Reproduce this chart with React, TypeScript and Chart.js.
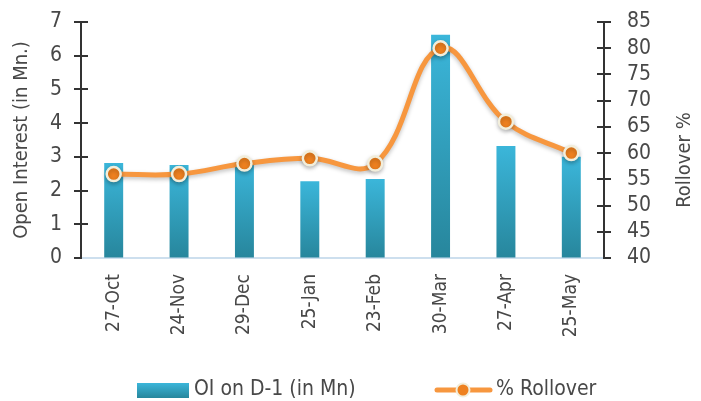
import { useEffect, useRef } from "react";
import { Chart, registerables } from "chart.js";

Chart.register(...registerables);

const categories = ["27-Oct", "24-Nov", "29-Dec", "25-Jan", "23-Feb", "30-Mar", "27-Apr", "25-May"];
const oiValues = [2.82, 2.76, 2.85, 2.28, 2.34, 6.62, 3.32, 3.0];
const rolloverValues = [56, 56, 58, 59, 58, 80, 66, 60];
const oiLabel = "OI on D-1 (in Mn)";
const rolloverLabel = "% Rollover";
const leftTitle = "Open Interest (in Mn.)";
const rightTitle = "Rollover %";

const FONT = '"DejaVu Sans Condensed", "Liberation Sans Narrow", "Roboto", sans-serif';
const TEXT = "#484848";
const BAR_TOP = "#3bb6da";
const BAR_BOTTOM = "#27869c";
const LINE = "#f7973f";
const MARKER = "#ee8120";
const MARKER_BORDER = "#f2eedb";

const axisTicksPlugin = {
  id: "axisTicks",
  afterDraw(chart: any) {
    const ctx = chart.ctx;
    ctx.save();
    ctx.strokeStyle = "#333";
    ctx.lineWidth = 2;
    ["y", "y1"].forEach((id) => {
      const s = chart.scales[id];
      const x = id === "y" ? s.right : s.left;
      s.ticks.forEach((_t: any, i: number) => {
        const py = Math.round(s.getPixelForTick(i));
        ctx.beginPath();
        if (i === 0) {
          if (id === "y") { ctx.moveTo(x - 7, py); ctx.lineTo(x, py); }
          else { ctx.moveTo(x, py); ctx.lineTo(x + 7, py); }
        } else {
          ctx.moveTo(x - 7, py);
          ctx.lineTo(x + 7, py);
        }
        ctx.stroke();
      });
    });
    // right axis title, reading bottom-to-top
    const s1 = chart.scales.y1;
    const ca = chart.chartArea;
    ctx.fillStyle = TEXT;
    ctx.font = `20px ${FONT}`;
    ctx.textAlign = "center";
    ctx.textBaseline = "middle";
    ctx.translate(s1.right - 16, (ca.top + ca.bottom) / 2 + 20);
    ctx.rotate(-Math.PI / 2);
    ctx.fillText(rightTitle, 0, 0);
    ctx.restore();
  },
};

const lineShadowPlugin = {
  id: "lineShadow",
  beforeDatasetDraw(chart: any, args: any) {
    if (args.index === 1) {
      const ctx = chart.ctx;
      ctx.save();
      ctx.shadowColor = "rgba(0,0,0,0.25)";
      ctx.shadowBlur = 4;
      ctx.shadowOffsetY = 2;
    }
  },
  afterDatasetDraw(chart: any, args: any) {
    if (args.index === 1) chart.ctx.restore();
  },
};

const customLegendPlugin = {
  id: "customLegend",
  afterDraw(chart: any) {
    const ctx = chart.ctx;
    const y = 390;
    ctx.save();
    const g = ctx.createLinearGradient(0, y - 7, 0, y + 8);
    g.addColorStop(0, BAR_TOP);
    g.addColorStop(1, BAR_BOTTOM);
    ctx.fillStyle = g;
    ctx.fillRect(137, y - 7, 52, 15);
    ctx.fillStyle = TEXT;
    ctx.font = `21px ${FONT}`;
    ctx.textBaseline = "middle";
    ctx.textAlign = "left";
    ctx.fillText(oiLabel, 194, y);
    ctx.strokeStyle = LINE;
    ctx.lineWidth = 5;
    ctx.lineCap = "round";
    ctx.beginPath();
    ctx.moveTo(437, y);
    ctx.lineTo(490, y);
    ctx.stroke();
    ctx.beginPath();
    ctx.arc(463, y, 6.5, 0, Math.PI * 2);
    ctx.fillStyle = MARKER;
    ctx.fill();
    ctx.lineWidth = 2;
    ctx.strokeStyle = MARKER_BORDER;
    ctx.stroke();
    ctx.fillStyle = TEXT;
    ctx.fillText(rolloverLabel, 496, y);
    ctx.restore();
  },
};

export default function App() {
  const ref = useRef<HTMLCanvasElement | null>(null);

  useEffect(() => {
    if (!ref.current) return;
    const chart = new Chart(ref.current, {
      type: "bar",
      data: {
        labels: categories,
        datasets: [
          {
            type: "bar",
            label: oiLabel,
            data: oiValues,
            yAxisID: "y",
            order: 1,
            barPercentage: 0.29,
            categoryPercentage: 1,
            backgroundColor: (c: any) => {
              const chart = c.chart;
              const ys = chart.scales?.y;
              if (!chart.chartArea || !ys || c.raw == null) return BAR_TOP;
              const top = ys.getPixelForValue(c.raw);
              const bottom = ys.getPixelForValue(0);
              const g = chart.ctx.createLinearGradient(0, top, 0, bottom);
              g.addColorStop(0, BAR_TOP);
              g.addColorStop(1, BAR_BOTTOM);
              return g;
            },
          } as any,
          {
            type: "line",
            label: rolloverLabel,
            data: rolloverValues,
            yAxisID: "y1",
            order: 0,
            borderColor: LINE,
            borderWidth: 5,
            tension: 0.4,
            pointRadius: 7,
            pointBackgroundColor: MARKER,
            pointBorderColor: MARKER_BORDER,
            pointBorderWidth: 2.5,
            fill: false,
          } as any,
        ],
      },
      options: {
        animation: false,
        responsive: false,
        maintainAspectRatio: false,
        layout: { padding: { top: 22, left: 0, right: 0, bottom: 0 } },
        plugins: {
          legend: { display: false },
          tooltip: { enabled: false },
        },
        scales: {
          x: {
            offset: true,
            grid: { display: false, drawTicks: false },
            border: { display: true, color: "#cddfee", width: 2 },
            ticks: {
              color: TEXT,
              font: { family: FONT, size: 19 },
              minRotation: 90,
              maxRotation: 90,
              padding: 16,
              autoSkip: false,
            },
            afterFit: (s: any) => { s.height = 143; },
          },
          y: {
            position: "left",
            min: 0,
            max: 7,
            grid: { display: true, drawOnChartArea: false, drawTicks: true, tickLength: 19, color: "rgba(0,0,0,0)" },
            border: { display: true, color: "#333", width: 2 },
            ticks: {
              stepSize: 1,
              autoSkip: false,
              color: TEXT,
              font: { family: FONT, size: 21 },
              padding: 0,
            },
            title: {
              display: true,
              text: leftTitle,
              color: TEXT,
              font: { family: FONT, size: 20 },
              padding: { top: 10, bottom: 0 },
            },
            afterFit: (s: any) => { s.width = 81; },
          },
          y1: {
            position: "right",
            min: 40,
            max: 85,
            grid: { display: true, drawOnChartArea: false, drawTicks: true, tickLength: 23, color: "rgba(0,0,0,0)" },
            border: { display: true, color: "#333", width: 2 },
            ticks: {
              stepSize: 5,
              autoSkip: false,
              color: TEXT,
              font: { family: FONT, size: 21 },
              padding: 0,
            },
            title: { display: false, text: rightTitle },
            afterFit: (s: any) => { s.width = 97; },
          },
        },
      },
      plugins: [axisTicksPlugin, lineShadowPlugin, customLegendPlugin],
    });
    return () => chart.destroy();
  }, []);

  return (
    <div style={{ position: "fixed", left: 0, top: 0, width: 701, height: 401, background: "#fff" }}>
      <canvas ref={ref} width={701} height={401} style={{ display: "block" }} />
    </div>
  );
}
